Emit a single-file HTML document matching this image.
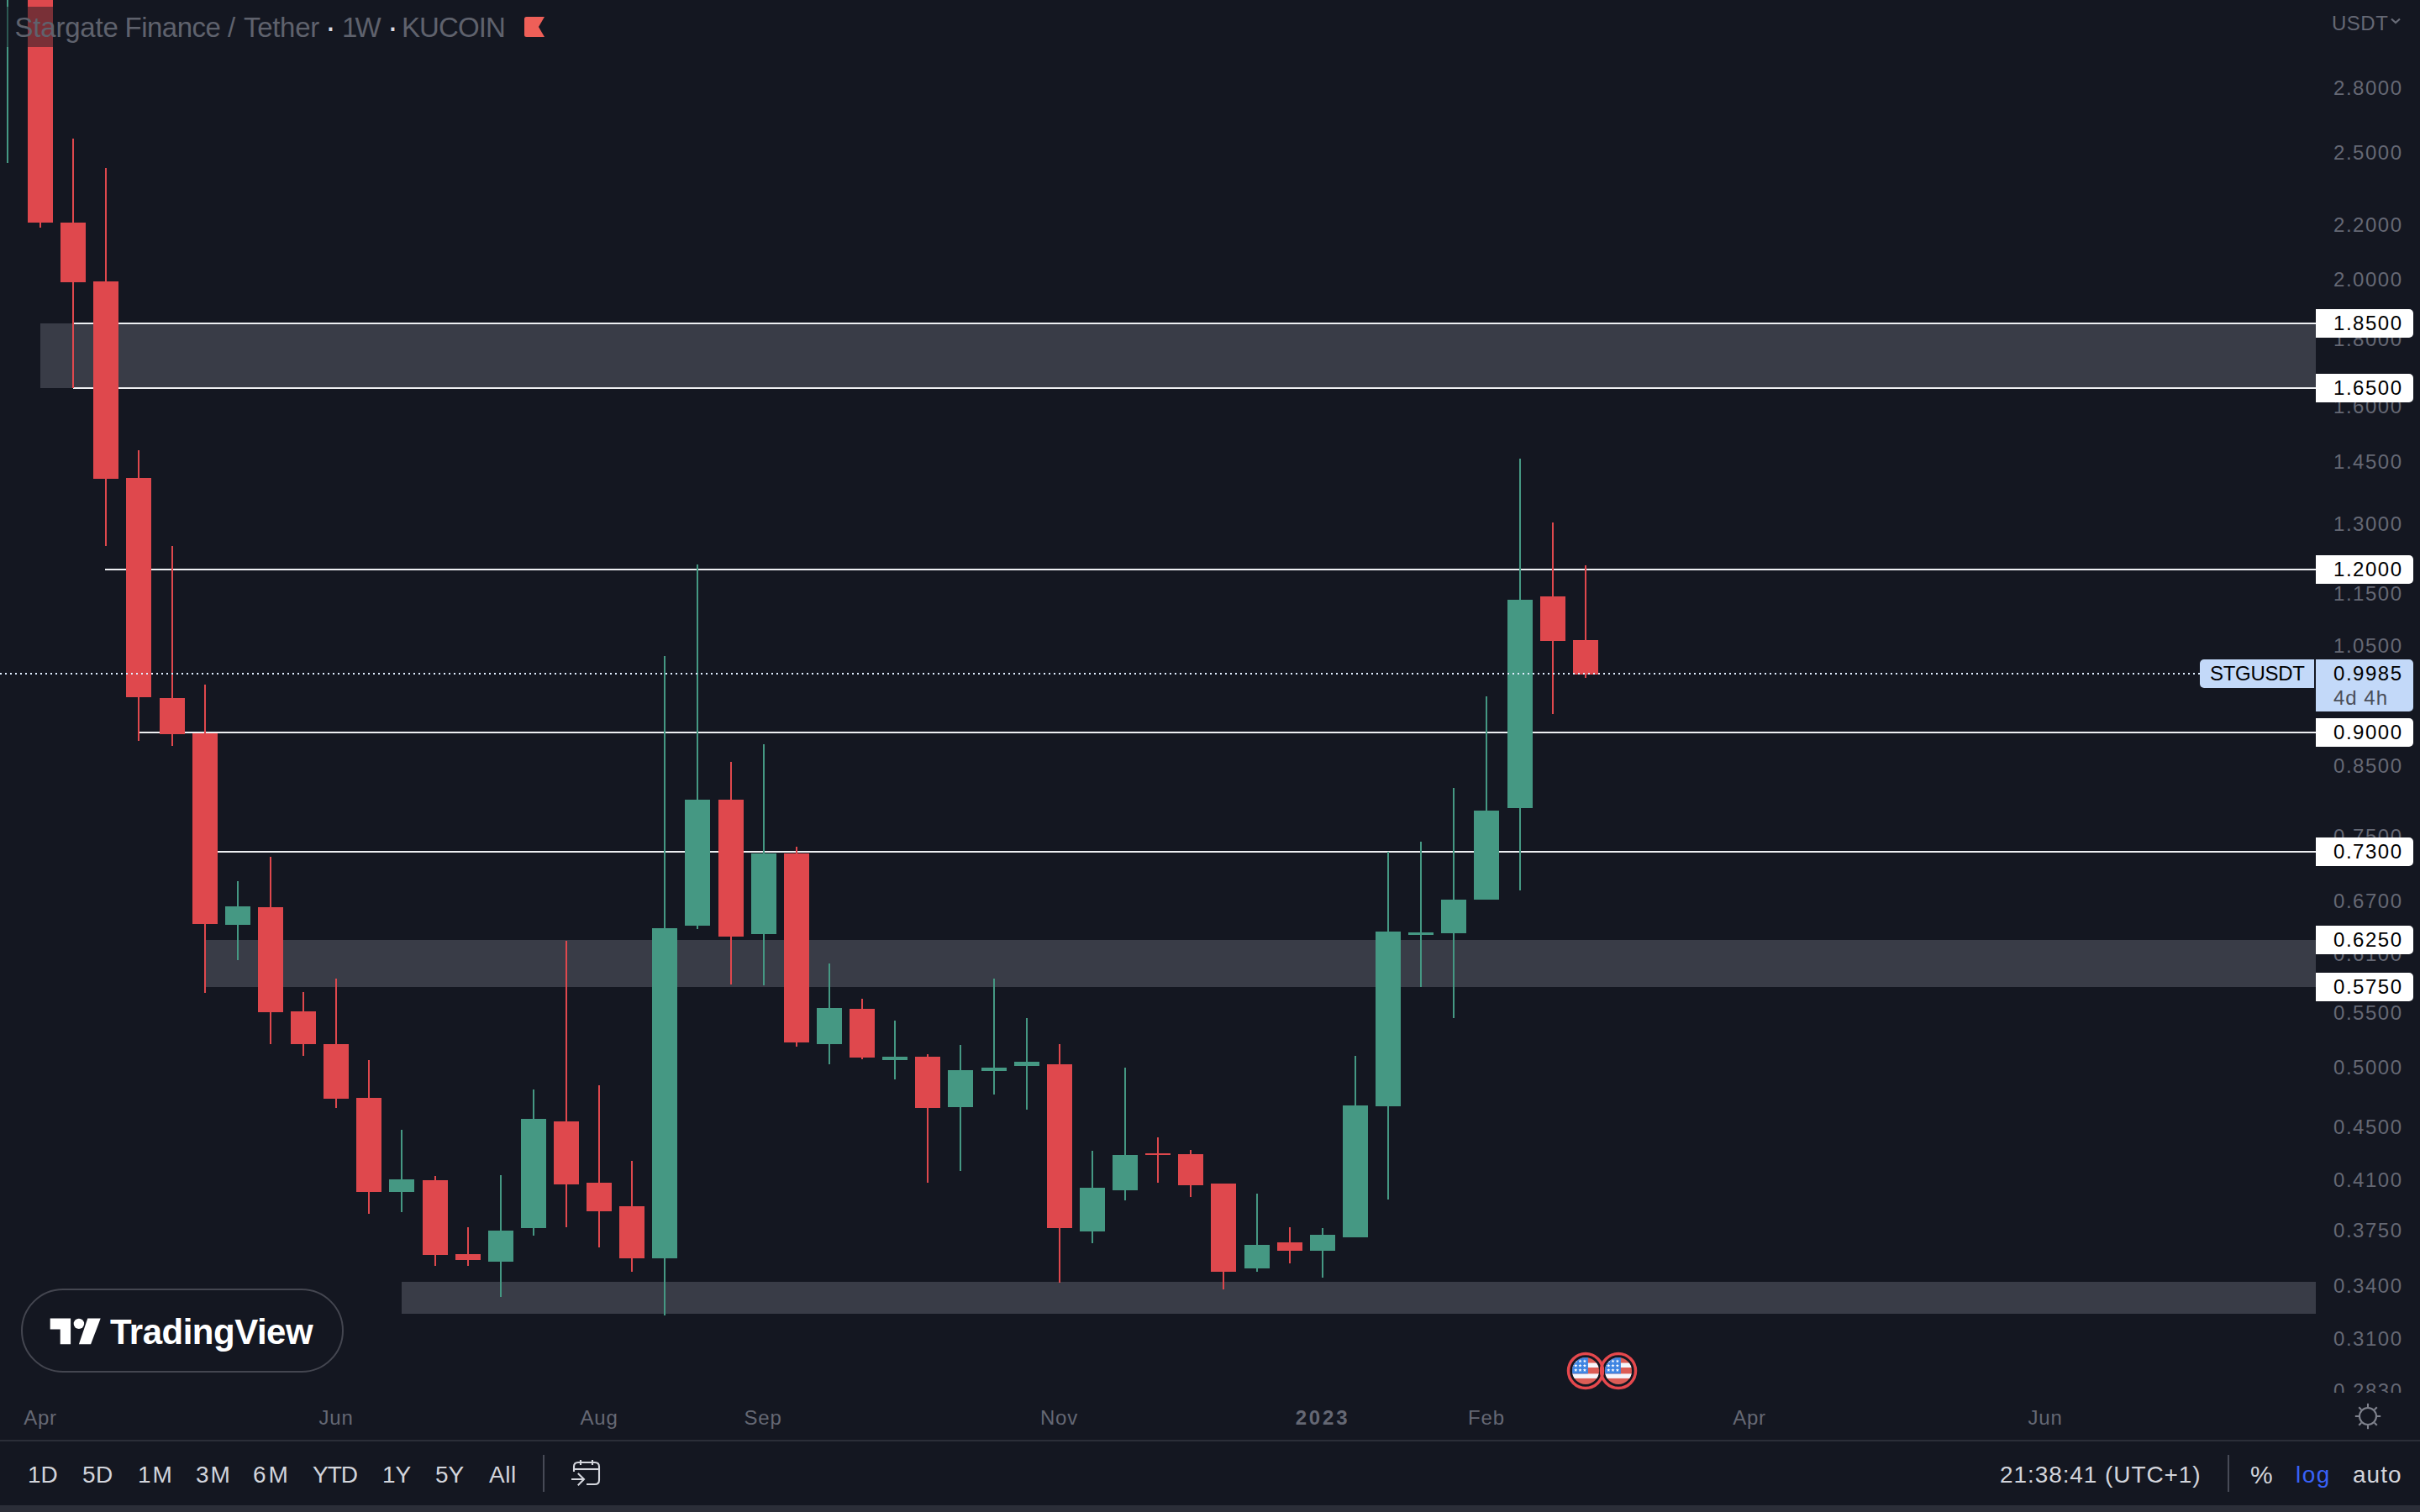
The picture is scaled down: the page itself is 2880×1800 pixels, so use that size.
<!DOCTYPE html>
<html><head><meta charset="utf-8"><title>STGUSDT chart</title>
<style>
html,body{margin:0;padding:0;background:#141721;}
body{width:2880px;height:1800px;overflow:hidden;position:relative;font-family:"Liberation Sans", sans-serif;}
div,svg{position:absolute;}
.t{white-space:nowrap;}
</style></head><body>
<div style="left:48px;top:385px;width:2708px;height:77px;background:#393c47;"></div>
<div style="left:245px;top:1119px;width:2511px;height:56px;background:#393c47;"></div>
<div style="left:478px;top:1526px;width:2278px;height:38px;background:#393c47;"></div>
<div style="left:87px;top:384px;width:2669px;height:2px;background:#eeeff2;"></div>
<div style="left:87px;top:461px;width:2669px;height:2px;background:#eeeff2;"></div>
<div style="left:125px;top:677px;width:2631px;height:2px;background:#eeeff2;"></div>
<div style="left:165px;top:871px;width:2591px;height:2px;background:#eeeff2;"></div>
<div style="left:244px;top:1013px;width:2512px;height:2px;background:#eeeff2;"></div>
<div style="left:8px;top:0px;width:2px;height:194px;background:#459883;"></div>
<div style="left:47px;top:0px;width:2px;height:271px;background:#df484d;"></div>
<div style="left:33px;top:0px;width:30px;height:265px;background:#df484d;"></div>
<div style="left:86px;top:165px;width:2px;height:297px;background:#df484d;"></div>
<div style="left:72px;top:265px;width:30px;height:71px;background:#df484d;"></div>
<div style="left:125px;top:200px;width:2px;height:450px;background:#df484d;"></div>
<div style="left:111px;top:335px;width:30px;height:235px;background:#df484d;"></div>
<div style="left:164px;top:536px;width:2px;height:346px;background:#df484d;"></div>
<div style="left:150px;top:569px;width:30px;height:261px;background:#df484d;"></div>
<div style="left:204px;top:650px;width:2px;height:238px;background:#df484d;"></div>
<div style="left:190px;top:831px;width:30px;height:43px;background:#df484d;"></div>
<div style="left:243px;top:815px;width:2px;height:367px;background:#df484d;"></div>
<div style="left:229px;top:873px;width:30px;height:227px;background:#df484d;"></div>
<div style="left:282px;top:1049px;width:2px;height:94px;background:#459883;"></div>
<div style="left:268px;top:1079px;width:30px;height:22px;background:#459883;"></div>
<div style="left:321px;top:1020px;width:2px;height:223px;background:#df484d;"></div>
<div style="left:307px;top:1080px;width:30px;height:125px;background:#df484d;"></div>
<div style="left:360px;top:1181px;width:2px;height:76px;background:#df484d;"></div>
<div style="left:346px;top:1204px;width:30px;height:39px;background:#df484d;"></div>
<div style="left:399px;top:1165px;width:2px;height:154px;background:#df484d;"></div>
<div style="left:385px;top:1243px;width:30px;height:65px;background:#df484d;"></div>
<div style="left:438px;top:1262px;width:2px;height:183px;background:#df484d;"></div>
<div style="left:424px;top:1307px;width:30px;height:112px;background:#df484d;"></div>
<div style="left:477px;top:1345px;width:2px;height:98px;background:#459883;"></div>
<div style="left:463px;top:1404px;width:30px;height:15px;background:#459883;"></div>
<div style="left:517px;top:1400px;width:2px;height:107px;background:#df484d;"></div>
<div style="left:503px;top:1405px;width:30px;height:89px;background:#df484d;"></div>
<div style="left:556px;top:1461px;width:2px;height:46px;background:#df484d;"></div>
<div style="left:542px;top:1493px;width:30px;height:7px;background:#df484d;"></div>
<div style="left:595px;top:1399px;width:2px;height:145px;background:#459883;"></div>
<div style="left:581px;top:1465px;width:30px;height:37px;background:#459883;"></div>
<div style="left:634px;top:1297px;width:2px;height:174px;background:#459883;"></div>
<div style="left:620px;top:1332px;width:30px;height:130px;background:#459883;"></div>
<div style="left:673px;top:1120px;width:2px;height:341px;background:#df484d;"></div>
<div style="left:659px;top:1335px;width:30px;height:75px;background:#df484d;"></div>
<div style="left:712px;top:1292px;width:2px;height:193px;background:#df484d;"></div>
<div style="left:698px;top:1408px;width:30px;height:34px;background:#df484d;"></div>
<div style="left:751px;top:1382px;width:2px;height:132px;background:#df484d;"></div>
<div style="left:737px;top:1436px;width:30px;height:62px;background:#df484d;"></div>
<div style="left:790px;top:781px;width:2px;height:785px;background:#459883;"></div>
<div style="left:776px;top:1105px;width:30px;height:393px;background:#459883;"></div>
<div style="left:829px;top:672px;width:2px;height:434px;background:#459883;"></div>
<div style="left:815px;top:952px;width:30px;height:150px;background:#459883;"></div>
<div style="left:869px;top:907px;width:2px;height:265px;background:#df484d;"></div>
<div style="left:855px;top:952px;width:30px;height:163px;background:#df484d;"></div>
<div style="left:908px;top:886px;width:2px;height:287px;background:#459883;"></div>
<div style="left:894px;top:1016px;width:30px;height:96px;background:#459883;"></div>
<div style="left:947px;top:1008px;width:2px;height:238px;background:#df484d;"></div>
<div style="left:933px;top:1016px;width:30px;height:225px;background:#df484d;"></div>
<div style="left:986px;top:1147px;width:2px;height:120px;background:#459883;"></div>
<div style="left:972px;top:1200px;width:30px;height:43px;background:#459883;"></div>
<div style="left:1025px;top:1189px;width:2px;height:72px;background:#df484d;"></div>
<div style="left:1011px;top:1201px;width:30px;height:58px;background:#df484d;"></div>
<div style="left:1064px;top:1215px;width:2px;height:70px;background:#459883;"></div>
<div style="left:1050px;top:1258px;width:30px;height:4px;background:#459883;"></div>
<div style="left:1103px;top:1255px;width:2px;height:153px;background:#df484d;"></div>
<div style="left:1089px;top:1258px;width:30px;height:61px;background:#df484d;"></div>
<div style="left:1142px;top:1244px;width:2px;height:150px;background:#459883;"></div>
<div style="left:1128px;top:1274px;width:30px;height:44px;background:#459883;"></div>
<div style="left:1182px;top:1165px;width:2px;height:138px;background:#459883;"></div>
<div style="left:1168px;top:1271px;width:30px;height:4px;background:#459883;"></div>
<div style="left:1221px;top:1212px;width:2px;height:109px;background:#459883;"></div>
<div style="left:1207px;top:1264px;width:30px;height:5px;background:#459883;"></div>
<div style="left:1260px;top:1243px;width:2px;height:284px;background:#df484d;"></div>
<div style="left:1246px;top:1267px;width:30px;height:195px;background:#df484d;"></div>
<div style="left:1299px;top:1370px;width:2px;height:110px;background:#459883;"></div>
<div style="left:1285px;top:1414px;width:30px;height:52px;background:#459883;"></div>
<div style="left:1338px;top:1271px;width:2px;height:158px;background:#459883;"></div>
<div style="left:1324px;top:1375px;width:30px;height:42px;background:#459883;"></div>
<div style="left:1377px;top:1354px;width:2px;height:54px;background:#df484d;"></div>
<div style="left:1363px;top:1373px;width:30px;height:2px;background:#df484d;"></div>
<div style="left:1416px;top:1369px;width:2px;height:56px;background:#df484d;"></div>
<div style="left:1402px;top:1374px;width:30px;height:37px;background:#df484d;"></div>
<div style="left:1455px;top:1409px;width:2px;height:126px;background:#df484d;"></div>
<div style="left:1441px;top:1409px;width:30px;height:105px;background:#df484d;"></div>
<div style="left:1495px;top:1421px;width:2px;height:93px;background:#459883;"></div>
<div style="left:1481px;top:1482px;width:30px;height:28px;background:#459883;"></div>
<div style="left:1534px;top:1461px;width:2px;height:43px;background:#df484d;"></div>
<div style="left:1520px;top:1479px;width:30px;height:10px;background:#df484d;"></div>
<div style="left:1573px;top:1462px;width:2px;height:59px;background:#459883;"></div>
<div style="left:1559px;top:1470px;width:30px;height:19px;background:#459883;"></div>
<div style="left:1612px;top:1257px;width:2px;height:216px;background:#459883;"></div>
<div style="left:1598px;top:1316px;width:30px;height:157px;background:#459883;"></div>
<div style="left:1651px;top:1014px;width:2px;height:414px;background:#459883;"></div>
<div style="left:1637px;top:1109px;width:30px;height:208px;background:#459883;"></div>
<div style="left:1690px;top:1002px;width:2px;height:173px;background:#459883;"></div>
<div style="left:1676px;top:1110px;width:30px;height:3px;background:#459883;"></div>
<div style="left:1729px;top:938px;width:2px;height:274px;background:#459883;"></div>
<div style="left:1715px;top:1071px;width:30px;height:40px;background:#459883;"></div>
<div style="left:1768px;top:829px;width:2px;height:242px;background:#459883;"></div>
<div style="left:1754px;top:965px;width:30px;height:106px;background:#459883;"></div>
<div style="left:1808px;top:546px;width:2px;height:514px;background:#459883;"></div>
<div style="left:1794px;top:714px;width:30px;height:248px;background:#459883;"></div>
<div style="left:1847px;top:622px;width:2px;height:228px;background:#df484d;"></div>
<div style="left:1833px;top:710px;width:30px;height:53px;background:#df484d;"></div>
<div style="left:1886px;top:673px;width:2px;height:134px;background:#df484d;"></div>
<div style="left:1872px;top:762px;width:30px;height:41px;background:#df484d;"></div>
<div style="left:0;top:801px;width:2618px;height:2px;background:repeating-linear-gradient(90deg,#e1eeff 0 2px,transparent 2px 6px)"></div>
<div style="left:8px;top:8px;width:650px;height:48px;background:rgba(20,23,33,0.5);"></div>
<div class="t" style="top:16.10px;font-size:33px;line-height:33px;color:#5f626d;letter-spacing:-0.2px;left:17.5px;">Stargate</div>
<div class="t" style="top:16.10px;font-size:33px;line-height:33px;color:#5f626d;letter-spacing:-0.5px;left:148.5px;">Finance</div>
<div class="t" style="top:16.10px;font-size:33px;line-height:33px;color:#5f626d;left:271px;">/</div>
<div class="t" style="top:16.10px;font-size:33px;line-height:33px;color:#5f626d;letter-spacing:-0.3px;left:290px;">Tether</div>
<div class="t" style="top:16.10px;font-size:33px;line-height:33px;color:#5f626d;letter-spacing:-2.8px;left:407px;">1W</div>
<div class="t" style="top:16.10px;font-size:33px;line-height:33px;color:#5f626d;letter-spacing:-0.9px;left:478px;">KUCOIN</div>
<div class="t" style="top:11.80px;font-size:40px;line-height:40px;color:#d9dae1;left:393.3px;transform:translateX(-50%);">·</div>
<div class="t" style="top:11.80px;font-size:40px;line-height:40px;color:#d9dae1;left:467.3px;transform:translateX(-50%);">·</div>
<svg style="left:624px;top:20px" width="24" height="24" viewBox="0 0 24 24"><path d="M2.5 0H24L17 12L24 24H2.5Q0 24 0 21.5V2.5Q0 0 2.5 0Z" fill="#ee5f58"/></svg>
<div style="left:2756px;top:0;width:124px;height:1658px;overflow:hidden">
<div class="t" style="right:20.5px;top:93.34px;font-size:24px;line-height:24px;letter-spacing:1.5px;color:#656874">2.8000</div>
<div class="t" style="right:20.5px;top:169.99px;font-size:24px;line-height:24px;letter-spacing:1.5px;color:#656874">2.5000</div>
<div class="t" style="right:20.5px;top:256.46px;font-size:24px;line-height:24px;letter-spacing:1.5px;color:#656874">2.2000</div>
<div class="t" style="right:20.5px;top:320.93px;font-size:24px;line-height:24px;letter-spacing:1.5px;color:#656874">2.0000</div>
<div class="t" style="right:20.5px;top:392.19px;font-size:24px;line-height:24px;letter-spacing:1.5px;color:#656874">1.8000</div>
<div class="t" style="right:20.5px;top:471.86px;font-size:24px;line-height:24px;letter-spacing:1.5px;color:#656874">1.6000</div>
<div class="t" style="right:20.5px;top:538.45px;font-size:24px;line-height:24px;letter-spacing:1.5px;color:#656874">1.4500</div>
<div class="t" style="right:20.5px;top:612.31px;font-size:24px;line-height:24px;letter-spacing:1.5px;color:#656874">1.3000</div>
<div class="t" style="right:20.5px;top:695.24px;font-size:24px;line-height:24px;letter-spacing:1.5px;color:#656874">1.1500</div>
<div class="t" style="right:20.5px;top:756.77px;font-size:24px;line-height:24px;letter-spacing:1.5px;color:#656874">1.0500</div>
<div class="t" style="right:20.5px;top:899.70px;font-size:24px;line-height:24px;letter-spacing:1.5px;color:#656874">0.8500</div>
<div class="t" style="right:20.5px;top:984.36px;font-size:24px;line-height:24px;letter-spacing:1.5px;color:#656874">0.7500</div>
<div class="t" style="right:20.5px;top:1060.66px;font-size:24px;line-height:24px;letter-spacing:1.5px;color:#656874">0.6700</div>
<div class="t" style="right:20.5px;top:1124.11px;font-size:24px;line-height:24px;letter-spacing:1.5px;color:#656874">0.6100</div>
<div class="t" style="right:20.5px;top:1194.15px;font-size:24px;line-height:24px;letter-spacing:1.5px;color:#656874">0.5500</div>
<div class="t" style="right:20.5px;top:1258.62px;font-size:24px;line-height:24px;letter-spacing:1.5px;color:#656874">0.5000</div>
<div class="t" style="right:20.5px;top:1329.88px;font-size:24px;line-height:24px;letter-spacing:1.5px;color:#656874">0.4500</div>
<div class="t" style="right:20.5px;top:1392.85px;font-size:24px;line-height:24px;letter-spacing:1.5px;color:#656874">0.4100</div>
<div class="t" style="right:20.5px;top:1453.21px;font-size:24px;line-height:24px;letter-spacing:1.5px;color:#656874">0.3750</div>
<div class="t" style="right:20.5px;top:1519.48px;font-size:24px;line-height:24px;letter-spacing:1.5px;color:#656874">0.3400</div>
<div class="t" style="right:20.5px;top:1581.96px;font-size:24px;line-height:24px;letter-spacing:1.5px;color:#656874">0.3100</div>
<div class="t" style="right:20.5px;top:1643.60px;font-size:24px;line-height:24px;letter-spacing:1.5px;color:#656874">0.2830</div>
</div>
<div class="t" style="top:15.50px;font-size:24px;line-height:24px;color:#656874;letter-spacing:0.5px;left:2775px;">USDT</div>
<svg style="left:2844px;top:20px" width="14" height="10" viewBox="0 0 14 10"><path d="M2 2.5L7 7L12 2.5" fill="none" stroke="#696c78" stroke-width="2.2"/></svg>
<div style="left:2756px;top:0;width:124px;height:1658px">
<div style="left:0;top:368px;width:116px;height:34px;background:#fff;border-radius:0 5px 5px 0"></div>
<div class="t" style="right:20.5px;top:373.00px;font-size:24px;line-height:24px;letter-spacing:1.5px;color:#000">1.8500</div>
<div style="left:0;top:445px;width:116px;height:34px;background:#fff;border-radius:0 5px 5px 0"></div>
<div class="t" style="right:20.5px;top:450.00px;font-size:24px;line-height:24px;letter-spacing:1.5px;color:#000">1.6500</div>
<div style="left:0;top:661px;width:116px;height:34px;background:#fff;border-radius:0 5px 5px 0"></div>
<div class="t" style="right:20.5px;top:666.00px;font-size:24px;line-height:24px;letter-spacing:1.5px;color:#000">1.2000</div>
<div style="left:0;top:855px;width:116px;height:34px;background:#fff;border-radius:0 5px 5px 0"></div>
<div class="t" style="right:20.5px;top:860.00px;font-size:24px;line-height:24px;letter-spacing:1.5px;color:#000">0.9000</div>
<div style="left:0;top:997px;width:116px;height:34px;background:#fff;border-radius:0 5px 5px 0"></div>
<div class="t" style="right:20.5px;top:1002.00px;font-size:24px;line-height:24px;letter-spacing:1.5px;color:#000">0.7300</div>
<div style="left:0;top:1102px;width:116px;height:34px;background:#fff;border-radius:0 5px 5px 0"></div>
<div class="t" style="right:20.5px;top:1107.00px;font-size:24px;line-height:24px;letter-spacing:1.5px;color:#000">0.6250</div>
<div style="left:0;top:1158px;width:116px;height:34px;background:#fff;border-radius:0 5px 5px 0"></div>
<div class="t" style="right:20.5px;top:1163.00px;font-size:24px;line-height:24px;letter-spacing:1.5px;color:#000">0.5750</div>
<div style="left:0;top:785px;width:116px;height:62px;background:#c3d9f9;border-radius:0 5px 5px 0"></div>
<div class="t" style="right:20.5px;top:790.00px;font-size:24px;line-height:24px;letter-spacing:1.5px;color:#000">0.9985</div>
<div class="t" style="left:21px;top:819px;font-size:24px;line-height:24px;letter-spacing:1px;color:#4a4e59">4d 4h</div>
</div>
<div style="left:2618px;top:785px;width:136px;height:34px;background:#c3d9f9;border-radius:5px 0 0 5px;"></div>
<div class="t" style="top:790.00px;font-size:24px;line-height:24px;color:#000;letter-spacing:-0.3px;left:2630px;">STGUSDT</div>
<div style="left:25px;top:1534px;width:380px;height:96px;border:2px solid #444650;border-radius:50px;background:#141721"></div>
<svg style="left:59px;top:1569px" width="62" height="32" viewBox="59 1569 62 32"><path d="M59.7 1569.6H84.1V1600.2H71.7V1582.4H59.7Z" fill="#fff"/><circle cx="93.9" cy="1575.9" r="6.2" fill="#fff"/><path d="M104.3 1569.6H119.7L108.1 1600.2H93.9Z" fill="#fff"/></svg>
<div class="t" style="top:1565.00px;font-size:42px;line-height:42px;color:#fff;font-weight:700;letter-spacing:-0.5px;left:131px;">TradingView</div>
<svg style="left:1860px;top:1604px" width="96" height="56" viewBox="1860 1604 96 56"><g><clipPath id="c1887"><circle cx="1887" cy="1632" r="16"/></clipPath><g clip-path="url(#c1887)"><rect x="1871" y="1616" width="32" height="32" fill="#dc5d56"/><rect x="1871" y="1622.5" width="32" height="5.5" fill="#f6f6fb"/><rect x="1871" y="1635.4" width="32" height="5.5" fill="#f6f6fb"/><rect x="1871" y="1616" width="18.9" height="19.4" fill="#3f85e2"/><polygon points="1875.30,1618.20 1875.86,1619.63 1877.39,1619.72 1876.20,1620.69 1876.59,1622.18 1875.30,1621.35 1874.01,1622.18 1874.40,1620.69 1873.21,1619.72 1874.74,1619.63" fill="#fff"/><polygon points="1875.30,1623.60 1875.86,1625.03 1877.39,1625.12 1876.20,1626.09 1876.59,1627.58 1875.30,1626.75 1874.01,1627.58 1874.40,1626.09 1873.21,1625.12 1874.74,1625.03" fill="#fff"/><polygon points="1875.30,1628.90 1875.86,1630.33 1877.39,1630.42 1876.20,1631.39 1876.59,1632.88 1875.30,1632.05 1874.01,1632.88 1874.40,1631.39 1873.21,1630.42 1874.74,1630.33" fill="#fff"/><polygon points="1880.50,1618.20 1881.06,1619.63 1882.59,1619.72 1881.40,1620.69 1881.79,1622.18 1880.50,1621.35 1879.21,1622.18 1879.60,1620.69 1878.41,1619.72 1879.94,1619.63" fill="#fff"/><polygon points="1880.50,1623.60 1881.06,1625.03 1882.59,1625.12 1881.40,1626.09 1881.79,1627.58 1880.50,1626.75 1879.21,1627.58 1879.60,1626.09 1878.41,1625.12 1879.94,1625.03" fill="#fff"/><polygon points="1880.50,1628.90 1881.06,1630.33 1882.59,1630.42 1881.40,1631.39 1881.79,1632.88 1880.50,1632.05 1879.21,1632.88 1879.60,1631.39 1878.41,1630.42 1879.94,1630.33" fill="#fff"/><polygon points="1885.90,1618.20 1886.46,1619.63 1887.99,1619.72 1886.80,1620.69 1887.19,1622.18 1885.90,1621.35 1884.61,1622.18 1885.00,1620.69 1883.81,1619.72 1885.34,1619.63" fill="#fff"/><polygon points="1885.90,1623.60 1886.46,1625.03 1887.99,1625.12 1886.80,1626.09 1887.19,1627.58 1885.90,1626.75 1884.61,1627.58 1885.00,1626.09 1883.81,1625.12 1885.34,1625.03" fill="#fff"/><polygon points="1885.90,1628.90 1886.46,1630.33 1887.99,1630.42 1886.80,1631.39 1887.19,1632.88 1885.90,1632.05 1884.61,1632.88 1885.00,1631.39 1883.81,1630.42 1885.34,1630.33" fill="#fff"/></g><circle cx="1887" cy="1632" r="20.5" fill="none" stroke="#e5484d" stroke-width="3.5"/></g><g><clipPath id="c1926"><circle cx="1926" cy="1632" r="16"/></clipPath><g clip-path="url(#c1926)"><rect x="1910" y="1616" width="32" height="32" fill="#dc5d56"/><rect x="1910" y="1622.5" width="32" height="5.5" fill="#f6f6fb"/><rect x="1910" y="1635.4" width="32" height="5.5" fill="#f6f6fb"/><rect x="1910" y="1616" width="18.9" height="19.4" fill="#3f85e2"/><polygon points="1914.30,1618.20 1914.86,1619.63 1916.39,1619.72 1915.20,1620.69 1915.59,1622.18 1914.30,1621.35 1913.01,1622.18 1913.40,1620.69 1912.21,1619.72 1913.74,1619.63" fill="#fff"/><polygon points="1914.30,1623.60 1914.86,1625.03 1916.39,1625.12 1915.20,1626.09 1915.59,1627.58 1914.30,1626.75 1913.01,1627.58 1913.40,1626.09 1912.21,1625.12 1913.74,1625.03" fill="#fff"/><polygon points="1914.30,1628.90 1914.86,1630.33 1916.39,1630.42 1915.20,1631.39 1915.59,1632.88 1914.30,1632.05 1913.01,1632.88 1913.40,1631.39 1912.21,1630.42 1913.74,1630.33" fill="#fff"/><polygon points="1919.50,1618.20 1920.06,1619.63 1921.59,1619.72 1920.40,1620.69 1920.79,1622.18 1919.50,1621.35 1918.21,1622.18 1918.60,1620.69 1917.41,1619.72 1918.94,1619.63" fill="#fff"/><polygon points="1919.50,1623.60 1920.06,1625.03 1921.59,1625.12 1920.40,1626.09 1920.79,1627.58 1919.50,1626.75 1918.21,1627.58 1918.60,1626.09 1917.41,1625.12 1918.94,1625.03" fill="#fff"/><polygon points="1919.50,1628.90 1920.06,1630.33 1921.59,1630.42 1920.40,1631.39 1920.79,1632.88 1919.50,1632.05 1918.21,1632.88 1918.60,1631.39 1917.41,1630.42 1918.94,1630.33" fill="#fff"/><polygon points="1924.90,1618.20 1925.46,1619.63 1926.99,1619.72 1925.80,1620.69 1926.19,1622.18 1924.90,1621.35 1923.61,1622.18 1924.00,1620.69 1922.81,1619.72 1924.34,1619.63" fill="#fff"/><polygon points="1924.90,1623.60 1925.46,1625.03 1926.99,1625.12 1925.80,1626.09 1926.19,1627.58 1924.90,1626.75 1923.61,1627.58 1924.00,1626.09 1922.81,1625.12 1924.34,1625.03" fill="#fff"/><polygon points="1924.90,1628.90 1925.46,1630.33 1926.99,1630.42 1925.80,1631.39 1926.19,1632.88 1924.90,1632.05 1923.61,1632.88 1924.00,1631.39 1922.81,1630.42 1924.34,1630.33" fill="#fff"/></g><circle cx="1926" cy="1632" r="20.5" fill="none" stroke="#e5484d" stroke-width="3.5"/></g></svg>
<div class="t" style="top:1676.00px;font-size:24px;line-height:24px;color:#656874;letter-spacing:0.8px;left:48px;transform:translateX(-50%);">Apr</div>
<div class="t" style="top:1676.00px;font-size:24px;line-height:24px;color:#656874;letter-spacing:0.8px;left:400px;transform:translateX(-50%);">Jun</div>
<div class="t" style="top:1676.00px;font-size:24px;line-height:24px;color:#656874;letter-spacing:0.8px;left:713px;transform:translateX(-50%);">Aug</div>
<div class="t" style="top:1676.00px;font-size:24px;line-height:24px;color:#656874;letter-spacing:0.8px;left:908px;transform:translateX(-50%);">Sep</div>
<div class="t" style="top:1676.00px;font-size:24px;line-height:24px;color:#656874;letter-spacing:0.8px;left:1260.5px;transform:translateX(-50%);">Nov</div>
<div class="t" style="top:1676.00px;font-size:24px;line-height:24px;color:#656874;font-weight:700;letter-spacing:2.8px;left:1574px;transform:translateX(-50%);">2023</div>
<div class="t" style="top:1676.00px;font-size:24px;line-height:24px;color:#656874;letter-spacing:0.8px;left:1769px;transform:translateX(-50%);">Feb</div>
<div class="t" style="top:1676.00px;font-size:24px;line-height:24px;color:#656874;letter-spacing:0.8px;left:2082px;transform:translateX(-50%);">Apr</div>
<div class="t" style="top:1676.00px;font-size:24px;line-height:24px;color:#656874;letter-spacing:0.8px;left:2434px;transform:translateX(-50%);">Jun</div>
<svg style="left:2798px;top:1666px" width="40" height="40" viewBox="-20 -20 40 40"><g fill="none" stroke="#7f828d" stroke-width="2.1"><circle r="10"/><path d="M11.00 0.00L15.20 0.00"/><path d="M7.78 7.78L10.75 10.75"/><path d="M0.00 11.00L0.00 15.20"/><path d="M-7.78 7.78L-10.75 10.75"/><path d="M-11.00 0.00L-15.20 0.00"/><path d="M-7.78 -7.78L-10.75 -10.75"/><path d="M-0.00 -11.00L-0.00 -15.20"/><path d="M7.78 -7.78L10.75 -10.75"/></g></svg>
<div style="left:0px;top:1714px;width:2880px;height:2px;background:#2b2e38;"></div>
<div style="left:0px;top:1792px;width:2880px;height:8px;background:#2b2e38;"></div>
<div style="left:646px;top:1732px;width:2px;height:44px;background:#474a56;"></div>
<div style="left:2651px;top:1732px;width:2px;height:44px;background:#474a56;"></div>
<div class="t" style="top:1741.60px;font-size:28px;line-height:28px;color:#d2d4db;left:33px;">1D</div>
<div class="t" style="top:1741.60px;font-size:28px;line-height:28px;color:#d2d4db;letter-spacing:0.5px;left:98px;">5D</div>
<div class="t" style="top:1741.60px;font-size:28px;line-height:28px;color:#d2d4db;letter-spacing:2px;left:164px;">1M</div>
<div class="t" style="top:1741.60px;font-size:28px;line-height:28px;color:#d2d4db;letter-spacing:2px;left:233px;">3M</div>
<div class="t" style="top:1741.60px;font-size:28px;line-height:28px;color:#d2d4db;letter-spacing:3px;left:301px;">6M</div>
<div class="t" style="top:1741.60px;font-size:28px;line-height:28px;color:#d2d4db;letter-spacing:-1px;left:372px;">YTD</div>
<div class="t" style="top:1741.60px;font-size:28px;line-height:28px;color:#d2d4db;left:455px;">1Y</div>
<div class="t" style="top:1741.60px;font-size:28px;line-height:28px;color:#d2d4db;left:518px;">5Y</div>
<div class="t" style="top:1741.60px;font-size:28px;line-height:28px;color:#d2d4db;letter-spacing:0.5px;left:582px;">All</div>
<div class="t" style="top:1741.60px;font-size:28px;line-height:28px;color:#d2d4db;letter-spacing:0.92px;left:2380px;">21:38:41 (UTC+1)</div>
<div class="t" style="top:1740.60px;font-size:30px;line-height:30px;color:#d2d4db;left:2678px;">%</div>
<div class="t" style="top:1741.60px;font-size:28px;line-height:28px;color:#3861f6;letter-spacing:1.5px;left:2732px;">log</div>
<div class="t" style="top:1741.60px;font-size:28px;line-height:28px;color:#d2d4db;letter-spacing:1px;left:2800px;">auto</div>
<svg style="left:676px;top:1734px" width="42" height="38" viewBox="676 1734 42 38"><g fill="none" stroke="#d4d6dd" stroke-width="2.1"><path d="M683 1752V1746Q683 1741 688 1741H708Q713 1741 713 1746V1762Q713 1767 708 1767H698"/><path d="M683 1749H713"/><path d="M691 1738V1744M705 1738V1744"/><path d="M680 1761H695M687.8 1754L695 1761L687.8 1768.2"/></g></svg>
</body></html>
